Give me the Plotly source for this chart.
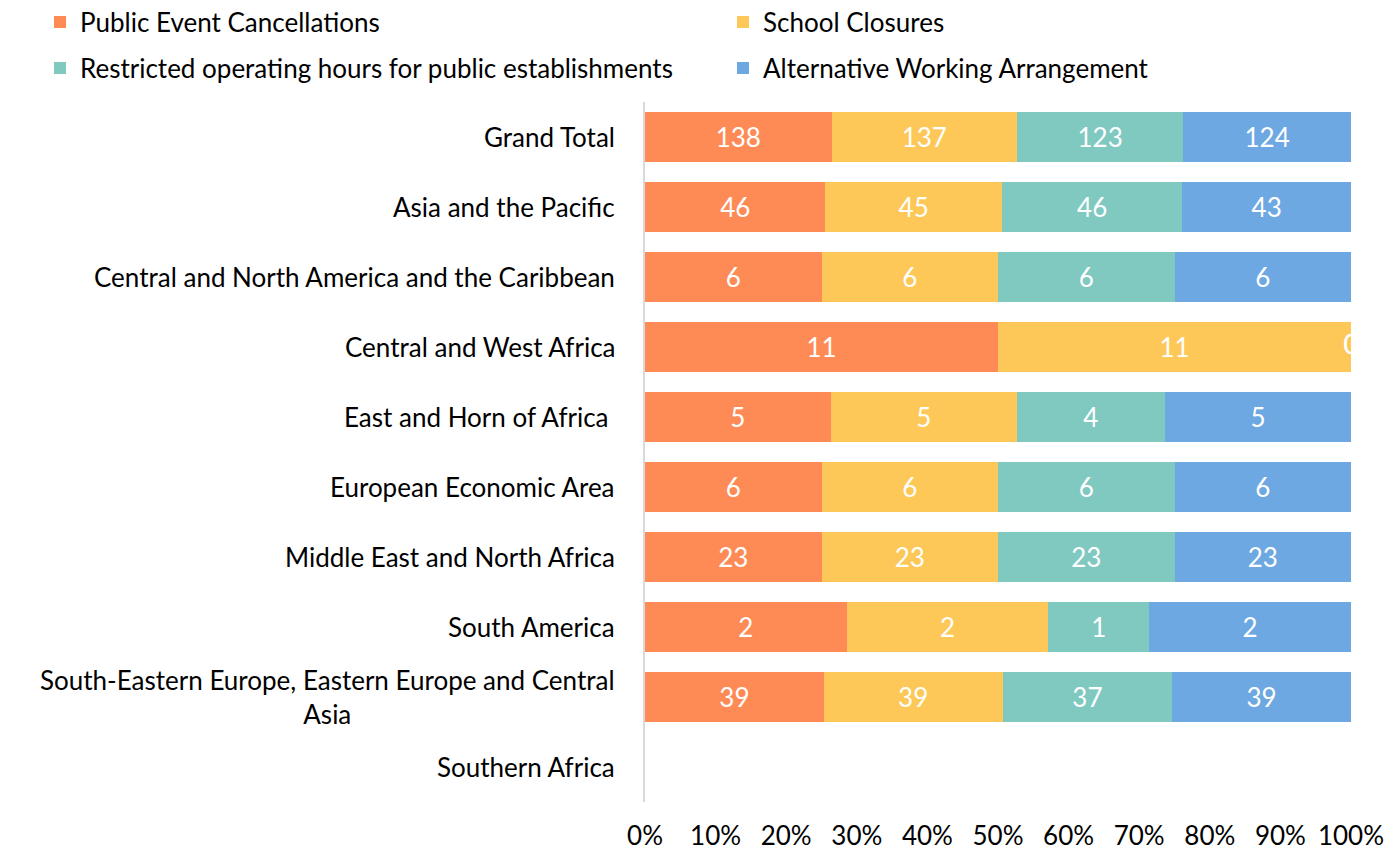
import plotly.graph_objects as go

# Regions (top to bottom) and measure counts per region
regions = [
    "Grand Total",
    "Asia and the Pacific",
    "Central and North America and the Caribbean",
    "Central and West Africa",
    "East and Horn of Africa ",
    "European Economic Area",
    "Middle East and North Africa",
    "South America",
    "South-Eastern Europe, Eastern Europe and Central<br>Asia",
    "Southern Africa",
]
public_event_cancellations = [138, 46, 6, 11, 5, 6, 23, 2, 39, 0]
school_closures = [137, 45, 6, 11, 5, 6, 23, 2, 39, 0]
restricted_hours = [123, 46, 6, 0, 4, 6, 23, 1, 37, 0]
alternative_working = [124, 43, 6, 0, 5, 6, 23, 2, 39, 0]

series_names = [
    "Public Event Cancellations",
    "School Closures",
    "Restricted operating hours for public establishments",
    "Alternative Working Arrangement",
]
series_values = [public_event_cancellations, school_closures, restricted_hours, alternative_working]
series_colors = ["#FE8B56", "#FEC858", "#80C9C1", "#6EA8E2"]

x_ticks = [0, 10, 20, 30, 40, 50, 60, 70, 80, 90, 100]
x_tick_labels = [f"{t}%" for t in x_ticks]

FONT = "Lato"
FS = 26
W, H = 1388, 850

# Legend slots: (left px, row centre px) in a 2x2 grid
legend_slots = [(40, 22), (723, 22), (40, 68), (723, 68)]
legend_ids = ["legend", "legend2", "legend3", "legend4"]

fig = go.Figure()
for name, vals, color, leg in zip(series_names, series_values, series_colors, legend_ids):
    fig.add_trace(go.Bar(
        name=name, y=regions, x=vals, orientation="h",
        marker=dict(color=color, line=dict(width=0)),
        text=[str(v) if v else "" for v in vals],
        textposition="inside", insidetextanchor="middle",
        textfont=dict(color="white", size=FS, family=FONT),
        constraintext="none",
        legend=leg, hoverinfo="skip",
    ))

# Labels of zero-width segments sit at the cumulative share (clipped at the plot edge)
zx, zy = [], []
for i, r in enumerate(regions):
    total = sum(v[i] for v in series_values)
    if total == 0:
        continue
    cum = 0
    for vals in series_values:
        if vals[i] == 0:
            zx.append(100 * cum / total)
            zy.append(r)
        cum += vals[i]
fig.add_trace(go.Scatter(
    x=zx, y=zy, mode="text", text=["0"] * len(zx),
    textfont=dict(color="white", size=FS, family=FONT),
    showlegend=False, cliponaxis=True, hoverinfo="skip",
))

# Category labels, centred line by line
for r in regions:
    fig.add_annotation(
        x=0, y=r, xref="x", yref="y",
        text=r.replace(" ", "\u00a0") if r.endswith(" ") else r,
        xanchor="right", yanchor="middle", align="center", xshift=-28,
        showarrow=False, font=dict(size=FS, family=FONT, color="#000000"),
    )

legend_layout = {}
for leg, (lx, ly) in zip(legend_ids, legend_slots):
    legend_layout[leg] = dict(
        orientation="h", xref="container", yref="container",
        x=lx / W, y=1 - ly / H, xanchor="left", yanchor="middle",
        font=dict(size=FS, family=FONT, color="#000000"),
        bgcolor="rgba(0,0,0,0)",
    )

fig.update_layout(
    barmode="stack", barnorm="percent", bargap=0.29,
    width=W, height=H,
    margin=dict(l=645, r=37, t=102, b=48, autoexpand=False),
    plot_bgcolor="white", paper_bgcolor="white",
    font=dict(family=FONT, size=FS, color="#000000"),
    xaxis=dict(
        range=[0, 100], tickvals=x_ticks, ticktext=x_tick_labels,
        showgrid=False, zeroline=False, showline=False,
        ticks="", ticklabelstandoff=16,
        tickfont=dict(size=FS, family=FONT, color="#000000"),
    ),
    yaxis=dict(
        autorange="reversed", showticklabels=False, showgrid=False,
        zeroline=False, showline=True, linecolor="#D9D9D9", linewidth=2,
        ticks="",
    ),
    **legend_layout,
)

fig.write_html("out.html")
